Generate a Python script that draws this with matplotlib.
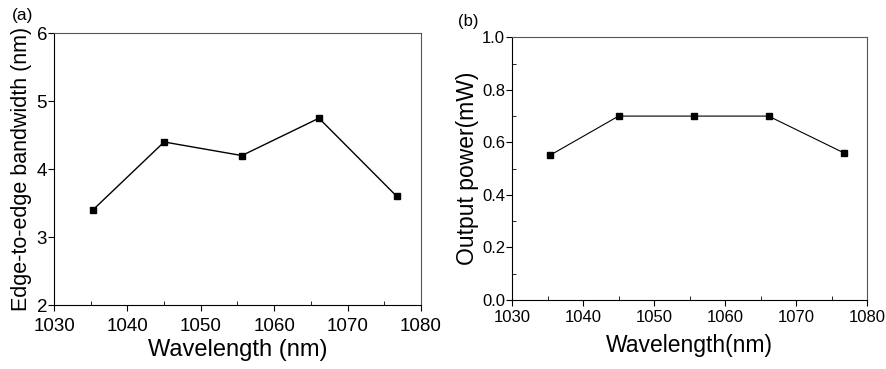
import matplotlib.pyplot as plt
from matplotlib.ticker import MultipleLocator

plt.rcParams['font.family'] = ['Liberation Sans', 'DejaVu Sans']

wavelength = [1035.3, 1045.0, 1055.6, 1066.1, 1076.7]
bandwidth = [3.4, 4.4, 4.2, 4.75, 3.6]
power = [0.55, 0.70, 0.70, 0.70, 0.56]

fig = plt.figure(figsize=(8.87, 3.69), dpi=100)

# (a) bandwidth
ax1 = fig.add_axes([0.0609, 0.1734, 0.4137, 0.7364])
ax1.plot(wavelength, bandwidth, color='black', lw=1, marker='s', ms=4.5)
ax1.set_xlim(1030, 1080)
ax1.set_ylim(2, 6)
ax1.set_yticks([2, 3, 4, 5, 6])
ax1.xaxis.set_minor_locator(MultipleLocator(5))
ax1.tick_params(axis='both', which='major', direction='out', length=4, labelsize=13.5)
ax1.tick_params(axis='x', which='major', pad=5)
ax1.tick_params(axis='y', which='major', pad=1)
ax1.tick_params(axis='x', which='minor', direction='in', length=3)
ax1.set_xlabel('Wavelength (nm)', fontsize=17, labelpad=3)
ax1.set_ylabel('Edge-to-edge bandwidth (nm)', fontsize=15.5, labelpad=3)
for s in ['top', 'right']:
    ax1.spines[s].set_color('#555555')
fig.text(0.013, 0.945, '(a)', fontsize=12.5)

# (b) output power
ax2 = fig.add_axes([0.5772, 0.187, 0.4006, 0.712])
ax2.plot(wavelength, power, color='black', lw=0.8, marker='s', ms=4.5)
ax2.set_xlim(1030, 1080)
ax2.set_ylim(0, 1.0)
ax2.set_yticks([0.0, 0.2, 0.4, 0.6, 0.8, 1.0])
ax2.yaxis.set_major_formatter(plt.FormatStrFormatter('%.1f'))
ax2.xaxis.set_minor_locator(MultipleLocator(5))
ax2.yaxis.set_minor_locator(MultipleLocator(0.1))
ax2.tick_params(axis='both', which='major', direction='out', length=4, labelsize=12, pad=1)
ax2.tick_params(axis='x', which='major', pad=3)
ax2.tick_params(axis='both', which='minor', direction='in', length=3)
ax2.set_xlabel('Wavelength(nm)', fontsize=16.5, labelpad=7)
ax2.set_ylabel('Output power(mW)', fontsize=16.5, labelpad=2)
for s in ['top', 'right']:
    ax2.spines[s].set_color('#555555')
fig.text(0.516, 0.93, '(b)', fontsize=12)

fig.savefig('out.png', dpi=100)
